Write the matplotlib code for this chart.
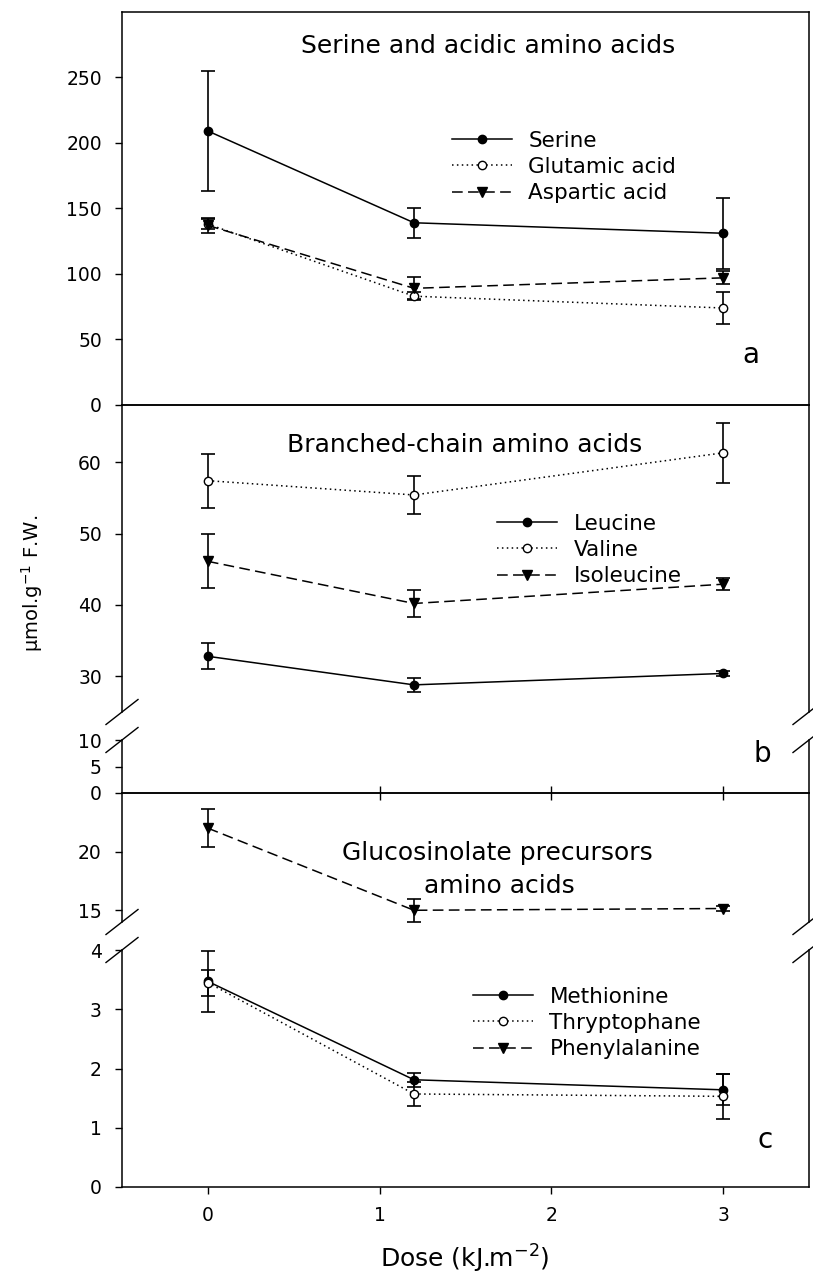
import matplotlib
matplotlib.use("Agg")
import matplotlib.pyplot as plt
from matplotlib.lines import Line2D

# ---------------- data ----------------
dose = [0, 1.2, 3]

serine = [209, 139, 131]
serine_err = [46, 11.5, 27]
glutamic = [138, 83, 74]
glutamic_err = [4, 3, 12]
aspartic = [137, 89, 97]
aspartic_err = [6, 8.5, 5]

leucine = [32.8, 28.8, 30.4]
leucine_err = [1.8, 1.0, 0.4]
valine = [57.4, 55.4, 61.3]
valine_err = [3.8, 2.6, 4.2]
isoleucine = [46.1, 40.2, 42.9]
isoleucine_err = [3.8, 1.9, 0.8]

methionine = [3.47, 1.81, 1.64]
methionine_err = [0.52, 0.12, 0.26]
tryptophane = [3.45, 1.57, 1.53]
tryptophane_err = [0.22, 0.21, 0.38]
phenylalanine = [22.0, 15.0, 15.15]
phenylalanine_err = [1.6, 1.0, 0.2]

a_labels = ["Serine", "Glutamic acid", "Aspartic acid"]
b_labels = ["Leucine", "Valine", "Isoleucine"]
c_labels = ["Methionine", "Thryptophane", "Phenylalanine"]

titles = ["Serine and acidic amino acids", "Branched-chain amino acids",
          "Glucosinolate precursors", "amino acids"]

# ---------------- layout ----------------
W, H = 813, 1273
fig = plt.figure(figsize=(W / 100, H / 100), dpi=100)
plt.rcParams["font.family"] = ["DejaVu Sans"]

XL, XR = 122, 809


def add_ax(top_px, bot_px):
    return fig.add_axes([XL / W, 1 - bot_px / H, (XR - XL) / W, (bot_px - top_px) / H])


ax_a = add_ax(11.7, 405)
ax_bu = add_ax(405, 712)
ax_bl = add_ax(740, 793)
ax_cu = add_ax(793, 922)
ax_cl = add_ax(950, 1187)

axes = [ax_a, ax_bu, ax_bl, ax_cu, ax_cl]
for ax in axes:
    ax.set_xlim(-0.5, 3.5)
    for s in ax.spines.values():
        s.set_linewidth(1.1)
    ax.tick_params(axis="y", direction="out", length=5, width=1.0, pad=9.5,
                   labelsize=13.5)
    ax.tick_params(axis="x", bottom=False, labelbottom=False)
    ax.patch.set_alpha(0)

ax_a.set_ylim(0, 300)
ax_a.set_yticks([0, 50, 100, 150, 200, 250])
ax_bu.set_ylim(25, 68)
ax_bu.set_yticks([30, 40, 50, 60])
ax_bl.set_ylim(0, 10)
ax_bl.set_yticks([0, 5, 10])
ax_cu.set_ylim(14, 25)
ax_cu.set_yticks([15, 20])
ax_cl.set_ylim(0, 4.0)
ax_cl.set_yticks([0, 1, 2, 3, 4])

ax_bu.spines["bottom"].set_visible(False)
ax_bl.spines["top"].set_visible(False)
ax_cu.spines["bottom"].set_visible(False)
ax_cl.spines["top"].set_visible(False)

ax_bl.set_xticks([1, 2, 3])
ax_bl.tick_params(axis="x", bottom=True, direction="inout", length=10, width=1.0,
                  labelbottom=False)
ax_cl.set_xticks([0, 1, 2, 3])
ax_cl.tick_params(axis="x", bottom=True, direction="out", length=5, width=1.0,
                  labelbottom=True, pad=9, labelsize=13.5)

LW = 1.1
styles = [
    dict(linestyle="-", marker="o", markersize=6, markerfacecolor="black"),
    dict(linestyle=(0, (1, 2.2)), marker="o", markersize=6, markerfacecolor="white"),
    dict(linestyle=(0, (7, 3.5)), marker="v", markersize=7, markerfacecolor="black"),
]


def series(ax, y, err, st, label):
    ax.errorbar(dose, y, yerr=err, fmt="none", ecolor="black", elinewidth=1.2,
                capsize=5, capthick=1.2, zorder=2)
    ln, = ax.plot(dose, y, color="black", lw=LW, markeredgecolor="black",
                  markeredgewidth=1.0, label=label, zorder=3, **st)
    return ln


ha = [series(ax_a, serine, serine_err, styles[0], a_labels[0]),
      series(ax_a, glutamic, glutamic_err, styles[1], a_labels[1]),
      series(ax_a, aspartic, aspartic_err, styles[2], a_labels[2])]
hb = [series(ax_bu, leucine, leucine_err, styles[0], b_labels[0]),
      series(ax_bu, valine, valine_err, styles[1], b_labels[1]),
      series(ax_bu, isoleucine, isoleucine_err, styles[2], b_labels[2])]
hc = [series(ax_cl, methionine, methionine_err, styles[0], c_labels[0]),
      series(ax_cl, tryptophane, tryptophane_err, styles[1], c_labels[1]),
      series(ax_cu, phenylalanine, phenylalanine_err, styles[2], c_labels[2])]


def legend(ax, handles, x_px, top_px):
    ax.legend(handles=handles, loc="upper left",
              bbox_to_anchor=(x_px / W, 1 - top_px / H),
              bbox_transform=fig.transFigure, frameon=False, fontsize=15.5,
              handlelength=2.8, handletextpad=0.75, labelspacing=0.28,
              borderpad=0, borderaxespad=0, numpoints=1)


legend(ax_a, ha, 452, 131)
legend(ax_bu, hb, 497, 514)
legend(ax_cl, hc, 473, 987)


def ftext(x_px, y_px, s, **kw):
    fig.text(x_px / W, 1 - y_px / H, s, **kw)


ftext(488.5, 53, titles[0], ha="center", va="baseline", fontsize=18)
ftext(465, 452, titles[1], ha="center", va="baseline", fontsize=18)
ftext(497, 860, titles[2], ha="center", va="baseline", fontsize=18)
ftext(499, 893, titles[3], ha="center", va="baseline", fontsize=18)

ftext(751, 363, "a", ha="center", va="baseline", fontsize=20)
ftext(762, 762, "b", ha="center", va="baseline", fontsize=20)
ftext(765, 1148, "c", ha="center", va="baseline", fontsize=20)

ftext(32, 583, "µmol.g$^{-1}$ F.W.", ha="center", va="center", rotation=90,
      fontsize=14)
ftext(465, 1268, "Dose (kJ.m$^{-2}$)", ha="center", va="baseline", fontsize=18)

# axis break marks
for y in [712, 740, 922, 950]:
    for x in [XL, XR]:
        fig.add_artist(Line2D([(x - 16) / W, (x + 16) / W],
                              [1 - (y + 12.5) / H, 1 - (y - 12.5) / H],
                              transform=fig.transFigure, color="black", lw=1.0))

fig.savefig("out.png", dpi=100)
